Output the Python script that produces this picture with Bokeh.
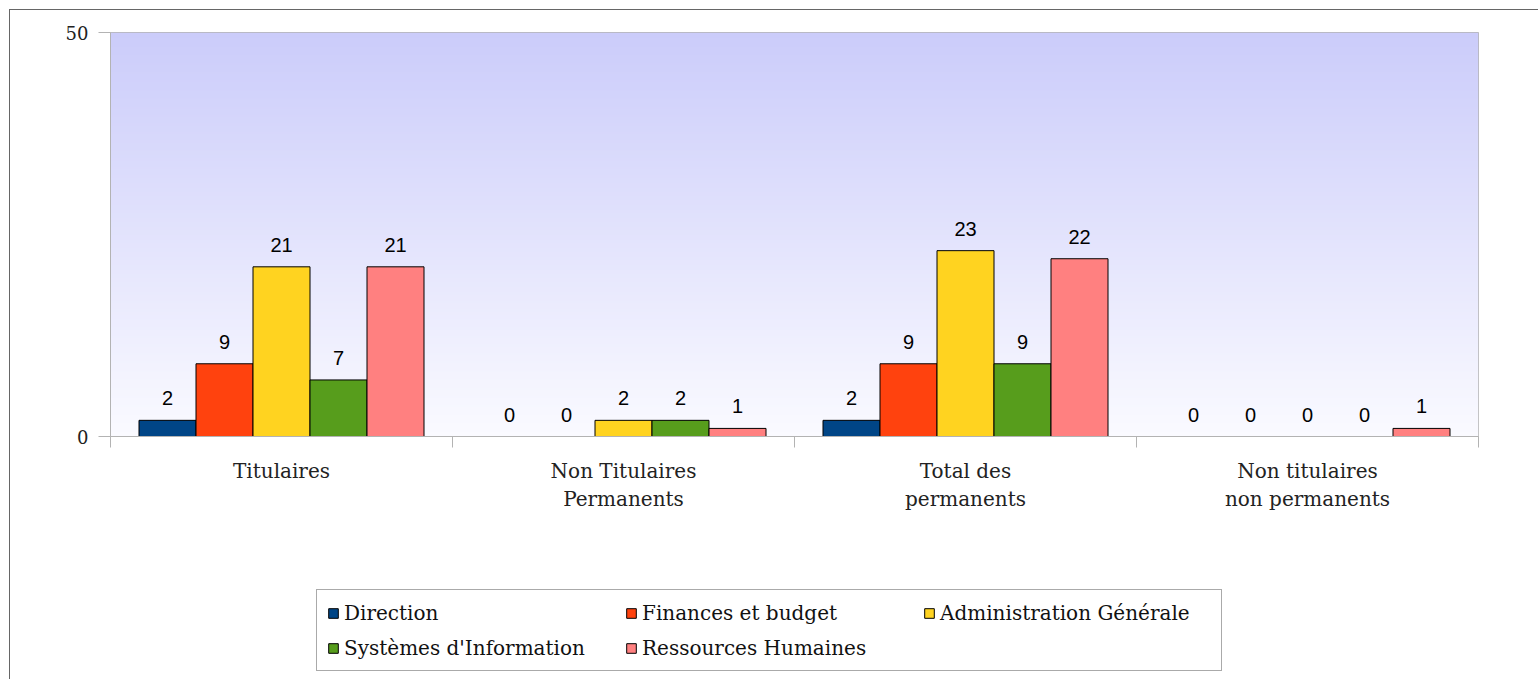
import numpy as np
from bokeh.plotting import figure
from bokeh.layouts import column
from bokeh.models import (ColumnDataSource, Range1d, LinearAxis, FixedTicker,
                          Legend, LegendItem)
from bokeh.core.properties import value
from bokeh.embed import file_html
from bokeh.resources import INLINE

# ---- data ----
categories = ["Titulaires", "Non Titulaires\nPermanents", "Total des\npermanents",
              "Non titulaires\nnon permanents"]
series = ["Direction", "Finances et budget", "Administration Générale",
          "Systèmes d'Information", "Ressources Humaines"]
direction = [2, 0, 2, 0]
finances = [9, 0, 9, 0]
administration = [21, 2, 23, 0]
systemes = [7, 2, 9, 0]
ressources = [21, 1, 22, 1]
y_ticks = [0, 50]

colors = ["#004586", "#ff420e", "#ffd320", "#579d1c", "#ff8080"]
SERIF = "DejaVu Serif"

ncat = len(categories)
W = 1528
H1 = 516
H2 = 153

p = figure(width=W, height=H1,
           x_range=Range1d(0, ncat), y_range=Range1d(y_ticks[0], y_ticks[-1]),
           output_backend="svg", toolbar_location=None,
           x_axis_location=None, y_axis_location=None,
           min_border_left=100, min_border_top=22, min_border_right=60,
           min_border_bottom=90,
           background_fill_color="white", border_fill_color="white")
p.grid.visible = False
p.outline_line_color = "#b3b3b3"

# gradient background
n = 256
t = np.linspace(0, 1, n)[:, None]
bot = np.array([250, 250, 255])[None, :]
top = np.array([203, 204, 250])[None, :]
rgb = (bot * (1 - t) + top * t).round().astype(np.uint8)
img = np.empty((n, 1), dtype=np.uint32)
view = img.view(dtype=np.uint8).reshape((n, 1, 4))
view[:, 0, 0] = rgb[:, 0]
view[:, 0, 1] = rgb[:, 1]
view[:, 0, 2] = rgb[:, 2]
view[:, 0, 3] = 255
p.image_rgba(image=[img], x=0, y=y_ticks[0], dw=ncat, dh=y_ticks[-1] - y_ticks[0])

# y axis
yaxis = LinearAxis(ticker=FixedTicker(ticks=y_ticks),
                   axis_line_color="#b3b3b3", major_tick_line_color="#b3b3b3",
                   major_tick_out=12, major_tick_in=0, minor_tick_line_color=None,
                   major_label_text_font=SERIF, major_label_text_font_size="18px",
                   major_label_text_color="#222222", major_label_standoff=10)
p.add_layout(yaxis, "left")

# x tick axis (ticks at category boundaries)
tickaxis = LinearAxis(ticker=FixedTicker(ticks=list(range(ncat + 1))),
                      axis_line_color="#b3b3b3", major_tick_line_color="#b3b3b3",
                      major_tick_out=11, major_tick_in=0, minor_tick_line_color=None,
                      major_label_text_font_size="0px", major_label_standoff=0,
                      major_label_text_color=None)
p.add_layout(tickaxis, "below")

# category label axis
centers = [i + 0.5 for i in range(ncat)]
cataxis = LinearAxis(ticker=FixedTicker(ticks=centers),
                     major_label_overrides={c: lab for c, lab in zip(centers, categories)},
                     axis_line_color=None, major_tick_line_color=None,
                     minor_tick_line_color=None,
                     major_label_text_font=SERIF, major_label_text_font_size="20px",
                     major_label_text_line_height=1.2,
                     major_label_text_color="#222222", major_label_standoff=5)
p.add_layout(cataxis, "below")

# legend figure (its bar renderers are hidden; only the legend shows)
p2 = figure(width=W, height=H2,
            output_backend="svg", toolbar_location=None,
            x_axis_location=None, y_axis_location=None,
            min_border_left=0, min_border_right=0, min_border_top=0, min_border_bottom=0,
            background_fill_color="white", border_fill_color="white")
p2.grid.visible = False
p2.outline_line_color = None

# bars
data = [direction, finances, administration, systemes, ressources]
bw = 1 / 6
items = []
for j, (name, vals, col) in enumerate(zip(series, data, colors)):
    xs = [i + 0.5 + (j - 2) * bw for i in range(ncat)]
    src = ColumnDataSource(dict(x=xs, top=vals, label=[str(v) for v in vals],
                                lc=["black" if v > 0 else None for v in vals]))
    p.vbar(x="x", top="top", bottom=0, width=bw, fill_color=col,
           line_color="lc", line_width=1, source=src)
    p.text(x="x", y="top", text="label", source=src, text_align="center",
           text_baseline="alphabetic", y_offset=-22,
           text_font=value("Liberation Sans"), text_font_size="20px",
           text_color="black")
    r2 = p2.vbar(x="x", top="top", bottom=0, width=bw, fill_color=col,
                 line_color="black", line_width=1, source=src, visible=False)
    items.append(LegendItem(label=name, renderers=[r2]))

legend = Legend(items=items, orientation="horizontal", ncols=3,
                location=(206, 8), click_policy="none",
                inactive_fill_alpha=0,
                border_line_color="#555555", border_line_width=1,
                background_fill_color="white", background_fill_alpha=1,
                label_text_font=SERIF, label_text_font_size="20px",
                label_text_color="#111111",
                glyph_width=12, glyph_height=12, label_standoff=5,
                label_height=25, label_width=271, spacing=10, padding=10, margin=0)
p2.add_layout(legend, "center")

layout = column(p, p2, spacing=0,
                styles={"border-top": "1px solid #666666",
                        "border-left": "1px solid #666666",
                        "margin-left": "9px", "margin-top": "9px"})

open("out.html", "w").write(file_html(layout, INLINE))
